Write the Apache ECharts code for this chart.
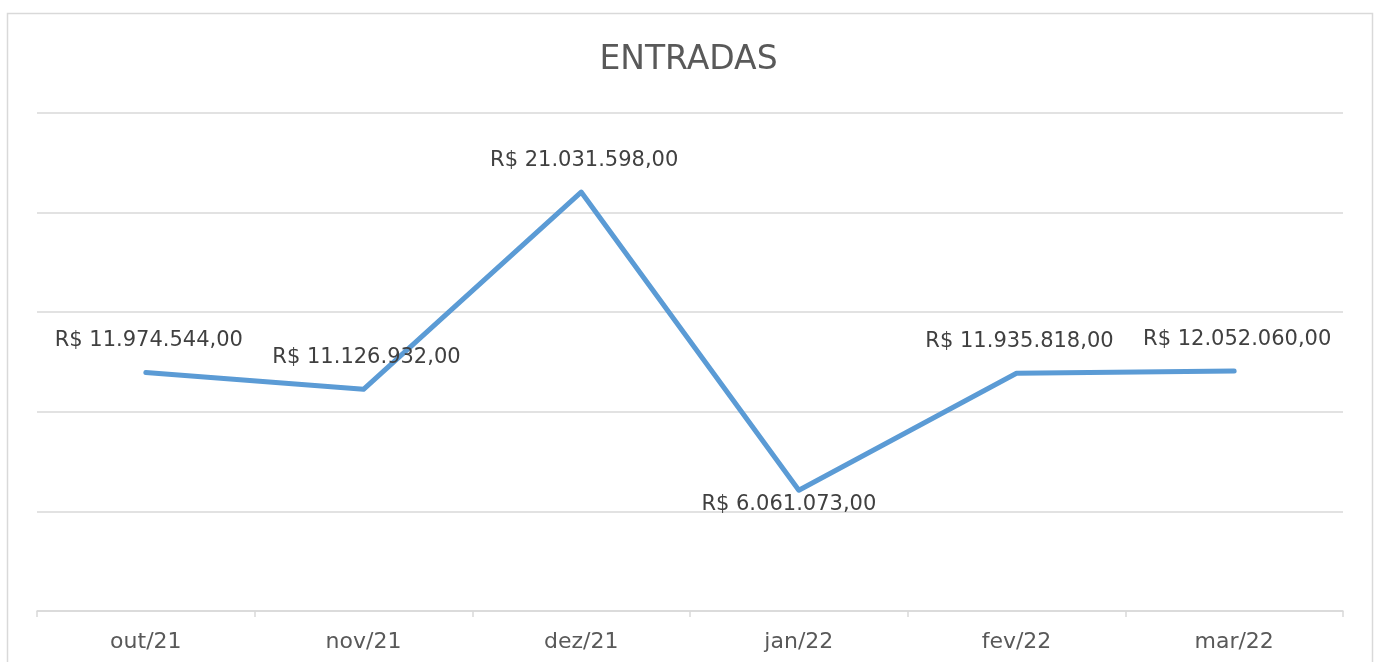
<!DOCTYPE html>
<html>
<head>
<meta charset="utf-8">
<script src="https://cdn.jsdelivr.net/npm/echarts@6/dist/echarts.min.js"></script>
<style>
  html, body { margin: 0; padding: 0; background: #fff; }
  #chart { width: 1377px; height: 662px; }
</style>
</head>
<body>
<div id="chart"></div>
<script>
var meses = ['out/21', 'nov/21', 'dez/21', 'jan/22', 'fev/22', 'mar/22']
var entradas = [11974544, 11126932, 21031598, 6061073, 11935818, 12052060]
var titulo = 'ENTRADAS'

var fonte = '"DejaVu Sans", sans-serif'

// formato brasileiro: R$ 11.974.544,00
function moeda(v) {
  var s = String(Math.round(v))
  var partes = []
  while (s.length > 3) {
    partes.unshift(s.slice(-3))
    s = s.slice(0, -3)
  }
  partes.unshift(s)
  return 'R$ ' + partes.join('.') + ',00'
}

var dados = entradas.map(function (v, i) {
  var item = { value: v }
  if (i === 3) {
    item.label = { position: 'bottom', distance: 3, offset: [-10, 0] }
  }
  return item
})

var chart = echarts.init(document.getElementById('chart'), null, { renderer: 'canvas' })
chart.setOption({
  animation: false,
  backgroundColor: '#fff',
  title: {
    text: titulo,
    left: 'center',
    top: 39,
    textStyle: { fontFamily: fonte, fontSize: 33, fontWeight: 'normal', color: '#595959' },
  },
  graphic: [
    {
      type: 'rect',
      shape: { x: 7.5, y: 13.5, width: 1365, height: 700 },
      style: { fill: 'none', stroke: '#d9d9d9', lineWidth: 1.5 },
      silent: true,
    },
  ],
  grid: { left: 37, right: 34, top: 113, bottom: 51 },
  xAxis: {
    type: 'category',
    data: meses,
    boundaryGap: true,
    axisLine: { lineStyle: { color: '#d9d9d9', width: 1.5 } },
    axisTick: { show: true, length: 6, lineStyle: { color: '#d9d9d9', width: 1.5 } },
    axisLabel: { color: '#595959', fontFamily: fonte, fontSize: 22, margin: 20 },
  },
  yAxis: {
    type: 'value',
    min: 0,
    max: 25000000,
    interval: 5000000,
    axisLabel: { show: false },
    axisLine: { show: false },
    axisTick: { show: false },
    splitLine: { lineStyle: { color: '#d9d9d9', width: 1.5 } },
  },
  series: [
    {
      type: 'line',
      data: dados,
      symbol: 'circle',
      symbolSize: 2,
      showSymbol: true,
      itemStyle: { color: 'rgba(0,0,0,0)' },
      lineStyle: { color: '#5b9bd5', width: 5, cap: 'round', join: 'round' },
      label: {
        show: true,
        position: 'top',
        distance: 20,
        offset: [3, 0],
        formatter: function (p) { return moeda(p.value) },
        color: '#404040',
        fontFamily: fonte,
        fontSize: 21,
      },
    },
  ],
})
</script>
</body>
</html>
